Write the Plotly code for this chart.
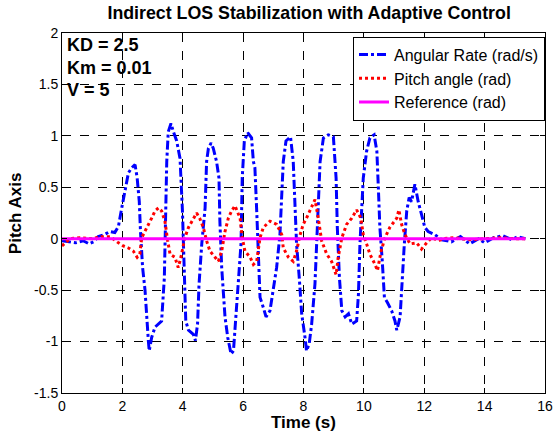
import plotly.graph_objects as go

# Angular rate (rad/s)
rate_t = [0.0, 0.2, 0.45, 0.7, 0.9, 1.05, 1.2, 1.4, 1.59, 1.75, 1.87, 1.98, 2.09, 2.2, 2.31, 2.42, 2.49,
          2.56, 2.6, 2.67, 2.75, 2.8, 2.86, 2.89, 2.97, 3.08, 3.19, 3.3, 3.39, 3.43, 3.47, 3.52, 3.61,
          3.69, 3.8, 3.91, 3.99, 4.05, 4.1, 4.19, 4.35, 4.42, 4.49, 4.54, 4.63, 4.74, 4.79, 4.85, 4.94,
          5.01, 5.12, 5.2, 5.23, 5.29, 5.4, 5.49, 5.6, 5.68, 5.75, 5.84, 5.93, 5.97, 6.04, 6.15, 6.28,
          6.34, 6.39, 6.45, 6.5, 6.56, 6.67, 6.76, 6.89, 6.98, 7.11, 7.22, 7.28, 7.33, 7.42, 7.57, 7.66,
          7.72, 7.77, 7.86, 7.94, 8.05, 8.1, 8.19, 8.27, 8.38, 8.44, 8.49, 8.55, 8.66, 8.82, 8.99, 9.08,
          9.12, 9.19, 9.27, 9.38, 9.49, 9.6, 9.76, 9.82, 9.87, 9.98, 10.09, 10.2, 10.34, 10.43, 10.48,
          10.53, 10.61, 10.68, 10.78, 10.92, 11.03, 11.09, 11.2, 11.27, 11.34, 11.42, 11.5, 11.58, 11.69,
          11.8, 11.91, 12.02, 12.13, 12.35, 12.58, 12.9, 13.2, 13.5, 13.8, 14.0, 14.3, 14.6, 14.9, 15.1, 15.35]
rate_v = [-0.02, -0.03, -0.04, -0.02, -0.05, -0.03, 0.02, 0.04, 0.07, 0.06, 0.12, 0.3, 0.46, 0.64, 0.69, 0.72, 0.59,
          0.36, 0.07, -0.28, -0.5, -0.76, -0.99, -1.09, -0.96, -0.86, -0.83, -0.8, -0.38, 0.27, 0.75, 1.04, 1.12,
          1.04, 0.95, 0.78, 0.27, -0.31, -0.8, -0.89, -0.93, -0.99, -0.83, -0.44, -0.05, 0.3, 0.75, 0.88, 0.93,
          0.88, 0.75, 0.59, 0.17, -0.28, -0.76, -0.96, -1.12, -1.09, -0.8, -0.38, -0.05, 0.59, 0.95, 1.03, 0.98,
          0.75, 0.69, 0.27, -0.22, -0.57, -0.67, -0.76, -0.7, -0.51, -0.28, 0.04, 0.43, 0.75, 0.95, 0.99, 0.75,
          0.33, -0.05, -0.38, -0.73, -0.96, -1.09, -1.02, -0.83, -0.44, -0.05, 0.43, 0.75, 0.98, 1.01, 0.99, 0.59,
          0.11, -0.38, -0.7, -0.76, -0.73, -0.83, -0.8, -0.54, -0.05, 0.59, 0.85, 0.98, 1.01, 0.85, 0.49,
          0.11, -0.22, -0.57, -0.62, -0.7, -0.8, -0.89, -0.76, -0.38, -0.05, 0.27, 0.4, 0.36, 0.53,
          0.36, 0.24, 0.11, 0.07, 0.04, -0.01, -0.03, 0.02, -0.05, 0.0, -0.04, 0.01, 0.03, -0.01, 0.02, 0.0]

# Pitch angle (rad)
pitch_t = [0.0, 0.1, 0.26, 0.6, 1.0, 1.3, 1.6, 1.87, 2.03, 2.2, 2.36, 2.49, 2.58, 2.64, 2.75, 2.86, 2.97,
           3.08, 3.2, 3.3, 3.41, 3.5, 3.58, 3.74, 3.85, 3.94, 4.07, 4.19, 4.35, 4.46, 4.56, 4.68, 4.79,
           4.9, 5.07, 5.18, 5.29, 5.4, 5.51, 5.62, 5.73, 5.9, 5.97, 6.06, 6.23, 6.34, 6.45, 6.56, 6.67,
           6.89, 7.11, 7.28, 7.33, 7.5, 7.66, 7.77, 7.88, 7.99, 8.1, 8.27, 8.38, 8.49, 8.6, 8.77, 8.93,
           9.08, 9.15, 9.27, 9.43, 9.6, 9.76, 9.9, 9.98, 10.09, 10.2, 10.37, 10.45, 10.57, 10.7, 10.86,
           11.09, 11.16, 11.25, 11.36, 11.53, 11.75, 11.91, 12.08, 12.24, 12.47, 12.63, 13.0, 13.5, 14.0,
           14.5, 15.0, 15.35]
pitch_v = [-0.07, -0.04, 0.0, 0.01, 0.0, 0.02, 0.02, -0.04, -0.07, -0.09, -0.12, -0.18, -0.15, 0.01, 0.07, 0.14, 0.2,
           0.27, 0.3, 0.27, 0.17, -0.02, -0.15, -0.18, -0.28, -0.18, 0.01, 0.11, 0.2, 0.25, 0.2, 0.11, -0.02,
           -0.12, -0.18, -0.22, -0.12, 0.07, 0.2, 0.27, 0.32, 0.2, 0.01, -0.12, -0.18, -0.25, -0.22, 0.01, 0.11,
           0.17, 0.14, 0.04, -0.09, -0.18, -0.22, -0.12, 0.03, 0.14, 0.2, 0.3, 0.38, 0.2, -0.02, -0.15, -0.22,
           -0.35, -0.18, 0.01, 0.14, 0.2, 0.28, 0.2, 0.04, -0.05, -0.15, -0.25, -0.31, -0.12, 0.01, 0.11,
           0.2, 0.28, 0.14, 0.04, -0.05, -0.04, -0.1, -0.04, 0.01, -0.02, 0.0, 0.01, -0.01, 0.0,
           0.01, 0.0, 0.0]

# Reference (rad)
ref_t = [0.0, 15.35]
ref_v = [0.0, 0.0]

x_ticks = [0, 2, 4, 6, 8, 10, 12, 14, 16]
y_ticks = [-1.5, -1, -0.5, 0, 0.5, 1, 1.5, 2]
notes = ["KD = 2.5", "Km = 0.01", "V = 5"]

FONT = "Liberation Sans, Arial, sans-serif"

fig = go.Figure()
fig.add_trace(go.Scatter(x=rate_t, y=rate_v, mode="lines", name="Angular Rate (rad/s)",
                         line=dict(color="#0000FF", width=3, dash="dashdot")))
fig.add_trace(go.Scatter(x=pitch_t, y=pitch_v, mode="lines", name="Pitch angle (rad)",
                         line=dict(color="#FF0000", width=3, dash="dot")))
fig.add_trace(go.Scatter(x=ref_t, y=ref_v, mode="lines", name="Reference (rad)",
                         line=dict(color="#FF00FF", width=3)))

axis_common = dict(showline=True, linecolor="black", linewidth=1, mirror="ticks",
                   ticks="inside", ticklen=5, tickcolor="black", automargin=False,
                   showgrid=True, gridcolor="black", gridwidth=1, griddash="dash",
                   zeroline=False, tickfont=dict(family=FONT, size=14, color="black"))

fig.update_xaxes(range=[0, 16], tickvals=x_ticks, ticktext=[str(v) for v in x_ticks], **axis_common)
fig.update_yaxes(range=[-1.5, 2], tickvals=y_ticks, ticktext=[f"{v:g}" for v in y_ticks], **axis_common)

# axis titles
fig.add_annotation(x=0.499, y=-0.081, xref="paper", yref="paper", showarrow=False,
                   xanchor="center", yanchor="middle", text="<b>Time (s)</b>",
                   font=dict(family=FONT, size=17, color="black"))
fig.add_annotation(x=-0.097, y=0.5, xref="paper", yref="paper", showarrow=False, textangle=-90,
                   xanchor="center", yanchor="middle", text="<b>Pitch Axis</b>",
                   font=dict(family=FONT, size=17, color="black"))

for i, n in enumerate(notes):
    fig.add_annotation(x=0.006, y=[0.967, 0.903, 0.842][i], xref="paper", yref="paper",
                       xanchor="left", yanchor="middle", showarrow=False,
                       text=f"<b>{n}</b>", font=dict(family=FONT, size=18, color="black"))

fig.update_layout(
    width=555, height=433,
    margin=dict(l=62, r=10, t=33, b=40, autoexpand=False),
    paper_bgcolor="white", plot_bgcolor="white",
    title=dict(text="<b>Indirect LOS Stabilization with Adaptive Control</b>",
               x=0.557, xanchor="center", y=0.97, yanchor="middle",
               font=dict(family=FONT, size=17.8, color="black")),
    legend=dict(x=1.0, y=0.99, xanchor="right", yanchor="top",
                bgcolor="white", bordercolor="black", borderwidth=1,
                font=dict(family=FONT, size=16, color="black"), itemwidth=30,
                tracegroupgap=0),
    showlegend=True,
)

fig.write_html("out.html", config={"displayModeBar": False},
               post_script="document.body.style.margin='0';document.body.style.padding='0';"
                           "document.body.style.overflow='hidden';")
